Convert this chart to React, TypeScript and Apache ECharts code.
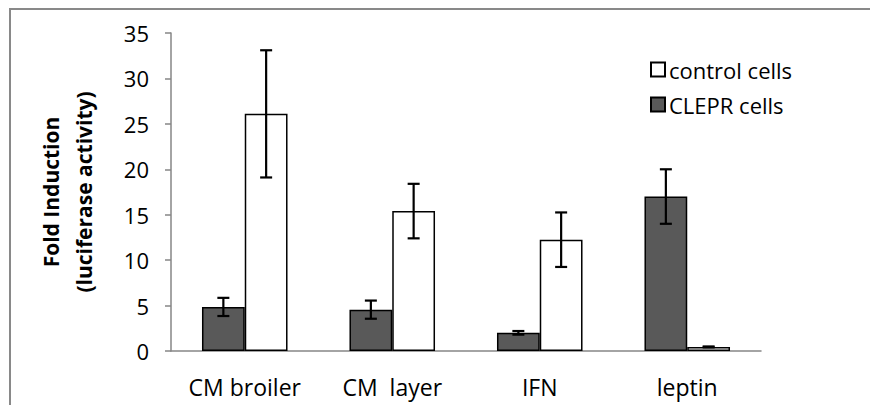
import React, { useEffect, useRef } from "react";
import * as echarts from "echarts";

const categories = ["CM broiler", "CM  layer", "IFN", "leptin"];
const clepr = [4.85, 4.55, 2.0, 17.0];
const cleprErr = [1.0, 1.0, 0.2, 3.0];
const control = [26.1, 15.4, 12.25, 0.45];
const controlErr = [7.0, 3.0, 3.0, 0.05];
const yTicks = { min: 0, max: 35, interval: 5 };

const FONT = "Open Sans";
const GAP = 0.42;

function errorSeries(vals: number[], errs: number[], side: number) {
  return {
    type: "custom",
    z: 10,
    silent: true,
    data: vals.map((v, i) => [i, v, errs[i]]),
    encode: { x: 0, y: 1 },
    renderItem: (params: any, api: any) => {
      const idx = api.value(0);
      const val = api.value(1);
      const err = api.value(2);
      const band = api.size([1, 0])[0];
      const barW = (band * (1 - GAP)) / 2;
      const cx = api.coord([idx, val])[0] + (side * barW) / 2;
      const top = api.coord([idx, val + err])[1];
      const bot = api.coord([idx, val - err])[1];
      const cap = 6;
      const st = { stroke: "#000", lineWidth: 2.2 };
      return {
        type: "group",
        children: [
          { type: "line", shape: { x1: cx, y1: top, x2: cx, y2: bot }, style: st },
          { type: "line", shape: { x1: cx - cap, y1: top, x2: cx + cap, y2: top }, style: st },
          { type: "line", shape: { x1: cx - cap, y1: bot, x2: cx + cap, y2: bot }, style: st },
        ],
      };
    },
  };
}

export default function App() {
  const ref = useRef<HTMLDivElement>(null);
  useEffect(() => {
    document.body.style.margin = "0";
    const chart = echarts.init(ref.current!, null, { renderer: "svg" });
    chart.setOption({
      animation: false,
      backgroundColor: "#fff",
      textStyle: { fontFamily: FONT },
      graphic: [
        {
          type: "rect",
          shape: { x: 10, y: 9, width: 900, height: 450 },
          style: { fill: "none", stroke: "#898989", lineWidth: 2 },
          silent: true,
        },
      ],
      grid: { left: 171, right: 109, top: 33, bottom: 54 },
      legend: {
        orient: "vertical",
        left: 645,
        top: 49,
        itemWidth: 14,
        itemHeight: 14,
        itemGap: 4,
        icon: "rect",
        data: ["control cells", "CLEPR cells"],
        textStyle: { fontFamily: FONT, fontSize: 22, color: "#000", padding: [0, 0, 0, -1], lineHeight: 31 },
      },
      xAxis: {
        type: "category",
        data: categories,
        axisLine: { lineStyle: { color: "#868686", width: 1.5 } },
        axisTick: { length: 6, lineStyle: { color: "#868686", width: 1.5 } },
        axisLabel: { color: "#000", fontSize: 23, margin: 24, fontFamily: FONT },
      },
      yAxis: {
        type: "value",
        min: yTicks.min,
        max: yTicks.max,
        interval: yTicks.interval,
        name: "Fold Induction\n(luciferase activity)",
        nameLocation: "middle",
        nameGap: 71,
        nameTextStyle: {
          fontFamily: FONT,
          fontSize: 21,
          fontWeight: "bold",
          color: "#000",
          lineHeight: 33,
        },
        splitLine: { show: false },
        axisLine: { show: true, lineStyle: { color: "#868686", width: 1.5 } },
        axisTick: { show: true, length: 6, lineStyle: { color: "#868686", width: 1.5 } },
        axisLabel: { color: "#000", fontSize: 22, margin: 22, fontFamily: FONT },
      },
      series: [
        {
          name: "CLEPR cells",
          type: "bar",
          data: clepr,
          barGap: "0%",
          barCategoryGap: GAP * 100 + "%",
          itemStyle: { color: "#595959", borderColor: "#000", borderWidth: 1.5 },
        },
        {
          name: "control cells",
          type: "bar",
          data: control,
          itemStyle: { color: "#fff", borderColor: "#000", borderWidth: 1.5 },
        },
        errorSeries(clepr, cleprErr, -1),
        errorSeries(control, controlErr, 1),
      ],
    });
    return () => chart.dispose();
  }, []);
  return <div ref={ref} style={{ width: 870, height: 405 }} />;
}
